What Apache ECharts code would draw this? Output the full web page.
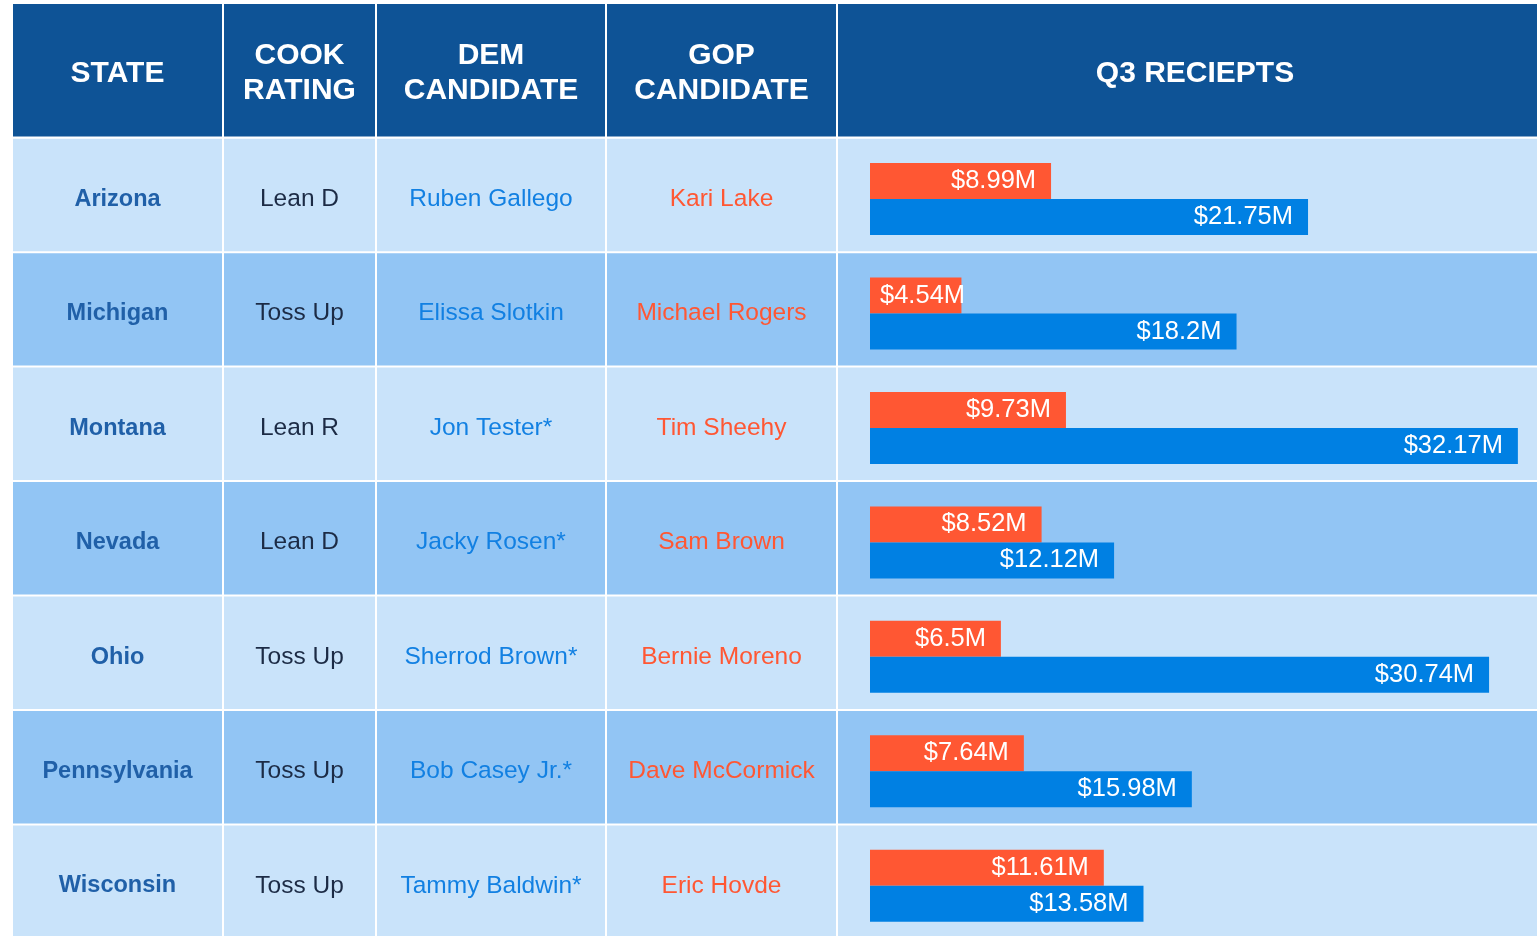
<!DOCTYPE html>
<html><head><meta charset="utf-8">
<script src="https://cdn.jsdelivr.net/npm/echarts@6/dist/echarts.min.js"></script>
<style>html,body{margin:0;padding:0;background:#fff;overflow:hidden;}#c{width:1537px;height:936px;}</style>
</head><body><div id="c"></div>
<script>
// ---- data ----
const headers = ['STATE', 'COOK\nRATING', 'DEM\nCANDIDATE', 'GOP\nCANDIDATE', 'Q3 RECIEPTS'];
const states = ['Arizona', 'Michigan', 'Montana', 'Nevada', 'Ohio', 'Pennsylvania', 'Wisconsin'];
const cookRatings = ['Lean D', 'Toss Up', 'Lean R', 'Lean D', 'Toss Up', 'Toss Up', 'Toss Up'];
const demCandidates = ['Ruben Gallego', 'Elissa Slotkin', 'Jon Tester*', 'Jacky Rosen*', 'Sherrod Brown*', 'Bob Casey Jr.*', 'Tammy Baldwin*'];
const gopCandidates = ['Kari Lake', 'Michael Rogers', 'Tim Sheehy', 'Sam Brown', 'Bernie Moreno', 'Dave McCormick', 'Eric Hovde'];
const gopReceipts = [8.99, 4.54, 9.73, 8.52, 6.5, 7.64, 11.61];
const demReceipts = [21.75, 18.2, 32.17, 12.12, 30.74, 15.98, 13.58];

// ---- layout / style ----
const W = 1537, H = 936;
const colEdges = [[13, 222], [224, 375], [377, 605], [607, 836], [838, 1537]];
const headerTextX = [117.5, 299.5, 491, 721.5, 1195];
const headerTop = 4, headerBottom = 136.5;
const tableTop = 137.5, rowH = 114.45;
const HEADER_BG = '#0E5396';
const ROW_BG = ['#C9E3FA', '#92C5F4'];
const RED = '#FF5733', BLUE = '#0080E3';
const FONT = "'Liberation Sans', Arial, sans-serif";
const xMax = 33, barLeft = 870, barWidthPx = 664.6;
const barTop = tableTop + 4.3;

const colTexts = [states, cookRatings, demCandidates, gopCandidates];
const colStyles = [
  { fill: '#2060A8', fontWeight: 'bold', fontSize: 23.5 },
  { fill: '#1C2B45', fontWeight: 'normal', fontSize: 24.5 },
  { fill: '#1280E2', fontWeight: 'normal', fontSize: 24.5 },
  { fill: '#FF5733', fontWeight: 'normal', fontSize: 24.5 }
];

const chart = echarts.init(document.getElementById('c'), null, { renderer: 'canvas' });

const measureCtx = document.createElement('canvas').getContext('2d');
measureCtx.font = "25.5px " + FONT;
function fmt(v) { return '$' + v + 'M'; }
function labelFor(v) {
  const px = v * barWidthPx / xMax;
  const tw = measureCtx.measureText(fmt(v)).width;
  if (px - 15 - tw < 10) return { position: 'insideLeft', distance: 10 };
  return { position: 'insideRight', distance: 15 };
}

const headerGraphics = [];
colEdges.forEach((e, i) => {
  headerGraphics.push({
    type: 'rect', shape: { x: e[0], y: headerTop, width: e[1] - e[0], height: headerBottom - headerTop },
    style: { fill: HEADER_BG }, silent: true
  });
  headerGraphics.push({
    type: 'text', x: headerTextX[i], y: (headerTop + headerBottom) / 2 + 3,
    style: { text: headers[i], fill: '#fff', font: 'bold 30px ' + FONT, align: 'center', verticalAlign: 'middle', lineHeight: 35 },
    silent: true
  });
});

const tableH = rowH * states.length;
const option = {
  animation: false,
  backgroundColor: '#fff',
  graphic: headerGraphics,
  grid: [
    { left: 0, width: W, top: tableTop, bottom: H - tableTop - tableH, outerBoundsMode: 'none', containLabel: false },
    { left: barLeft, width: barWidthPx, top: barTop, bottom: H - barTop - tableH, outerBoundsMode: 'none', containLabel: false }
  ],
  xAxis: [
    { gridIndex: 0, type: 'value', min: 0, max: 1, show: false },
    { gridIndex: 1, type: 'value', min: 0, max: xMax, show: false }
  ],
  yAxis: [
    { gridIndex: 0, type: 'category', data: states, inverse: true, show: false },
    { gridIndex: 1, type: 'category', data: states, inverse: true, show: false }
  ],
  series: [
    {
      type: 'custom', xAxisIndex: 0, yAxisIndex: 0, z: 1, clip: false,
      data: states.map((s, i) => [0, i]),
      encode: { x: 0, y: 1 },
      renderItem: function (params, api) {
        const idx = api.value(1);
        const c = api.coord([0, idx]);
        const h = api.size([0, 1])[1];
        const top = c[1] - h / 2;
        const children = [];
        colEdges.forEach((e, ci) => {
          children.push({
            type: 'rect', shape: { x: e[0], y: top + 1.2, width: e[1] - e[0], height: h - 2 },
            style: { fill: ROW_BG[idx % 2] }
          });
          if (ci < 4) {
            const st = colStyles[ci];
            children.push({
              type: 'text', x: (e[0] + e[1]) / 2, y: c[1] + 4.5,
              style: {
                text: colTexts[ci][idx], fill: st.fill,
                font: st.fontWeight + ' ' + st.fontSize + 'px ' + FONT,
                align: 'center', verticalAlign: 'middle'
              }
            });
          }
        });
        return { type: 'group', children: children };
      }
    },
    {
      name: 'GOP', type: 'bar', xAxisIndex: 1, yAxisIndex: 1, z: 3,
      barWidth: 36, barGap: '0%',
      itemStyle: { color: RED },
      data: gopReceipts.map(v => ({ value: v, label: labelFor(v) })),
      label: { show: true, color: '#fff', fontSize: 25.5, fontFamily: FONT, formatter: p => fmt(p.value) }
    },
    {
      name: 'DEM', type: 'bar', xAxisIndex: 1, yAxisIndex: 1, z: 3,
      barWidth: 36, barGap: '0%',
      itemStyle: { color: BLUE },
      data: demReceipts.map(v => ({ value: v, label: labelFor(v) })),
      label: { show: true, color: '#fff', fontSize: 25.5, fontFamily: FONT, formatter: p => fmt(p.value) }
    }
  ]
};
chart.setOption(option);
</script>
</body></html>
